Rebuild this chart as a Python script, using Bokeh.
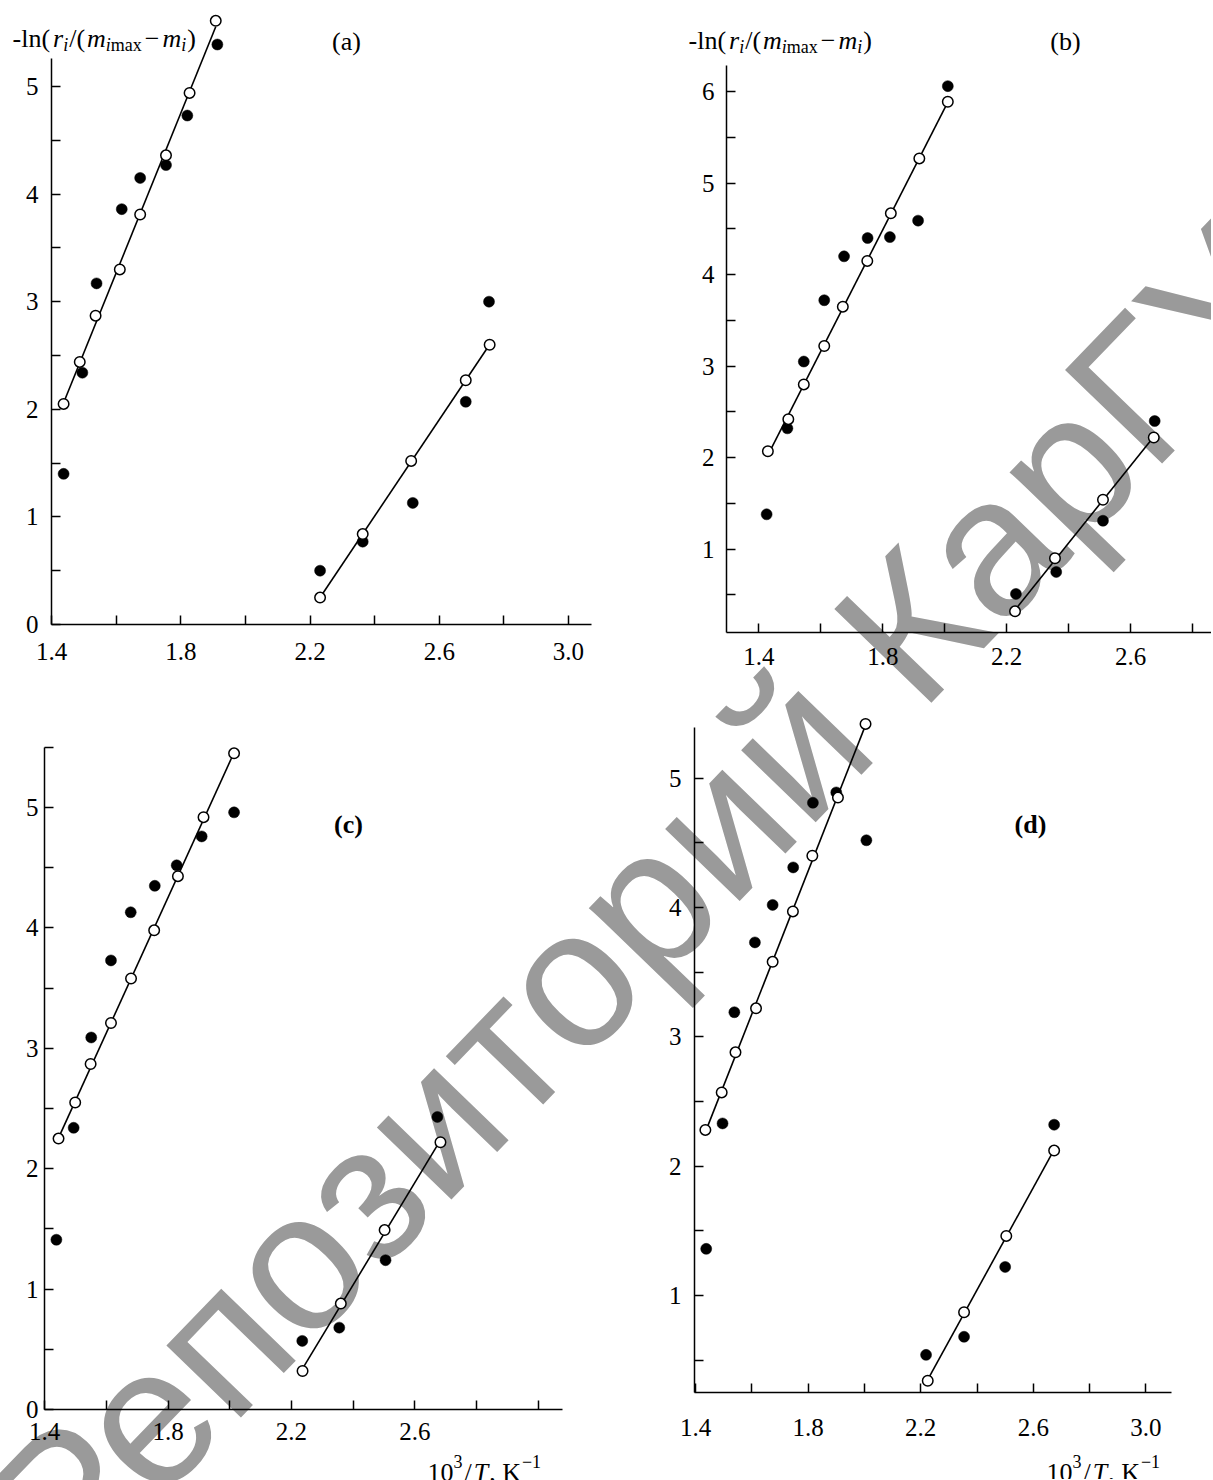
import numpy as np
from bokeh.plotting import figure
from bokeh.layouts import column, row
from bokeh.models import FixedTicker, PrintfTickFormatter
from bokeh.core.properties import value
from bokeh.embed import file_html
from bokeh.resources import INLINE

# ---------------- data: x = 10^3/T (K^-1), y = -ln(r_i/(m_imax - m_i)) ----------------
# panel (a)
a_hi_open_x = [1.437, 1.487, 1.536, 1.611, 1.674, 1.754, 1.827, 1.908]
a_hi_open_y = [2.05, 2.44, 2.87, 3.30, 3.81, 4.36, 4.94, 5.61]
a_hi_fill_x = [1.437, 1.495, 1.539, 1.617, 1.674, 1.754, 1.820, 1.913]
a_hi_fill_y = [1.40, 2.34, 3.17, 3.86, 4.15, 4.27, 4.73, 5.39]
a_lo_open_x = [2.231, 2.363, 2.513, 2.682, 2.756]
a_lo_open_y = [0.25, 0.84, 1.52, 2.27, 2.60]
a_lo_fill_x = [2.231, 2.363, 2.518, 2.682, 2.754]
a_lo_fill_y = [0.50, 0.77, 1.13, 2.07, 3.00]
# panel (b)
b_hi_open_x = [1.429, 1.495, 1.545, 1.611, 1.671, 1.750, 1.826, 1.918, 2.010]
b_hi_open_y = [2.07, 2.42, 2.80, 3.22, 3.65, 4.15, 4.67, 5.27, 5.89]
b_hi_fill_x = [1.425, 1.492, 1.545, 1.611, 1.675, 1.751, 1.823, 1.914, 2.010]
b_hi_fill_y = [1.38, 2.32, 3.05, 3.72, 4.20, 4.40, 4.41, 4.59, 6.06]
b_lo_open_x = [2.227, 2.356, 2.511, 2.675]
b_lo_open_y = [0.32, 0.90, 1.54, 2.22]
b_lo_fill_x = [2.230, 2.360, 2.511, 2.678]
b_lo_fill_y = [0.51, 0.75, 1.31, 2.40]
# panel (c)
c_hi_open_x = [1.445, 1.499, 1.549, 1.615, 1.680, 1.755, 1.832, 1.915, 2.014]
c_hi_open_y = [2.25, 2.55, 2.87, 3.21, 3.58, 3.98, 4.43, 4.92, 5.45]
c_hi_fill_x = [1.438, 1.494, 1.551, 1.615, 1.679, 1.757, 1.828, 1.909, 2.014]
c_hi_fill_y = [1.41, 2.34, 3.09, 3.73, 4.13, 4.35, 4.52, 4.76, 4.96]
c_lo_open_x = [2.236, 2.360, 2.502, 2.683]
c_lo_open_y = [0.32, 0.88, 1.49, 2.22]
c_lo_fill_x = [2.235, 2.355, 2.505, 2.673]
c_lo_fill_y = [0.57, 0.68, 1.24, 2.43]
# panel (d)
d_hi_open_x = [1.435, 1.493, 1.542, 1.615, 1.674, 1.746, 1.815, 1.906, 2.004]
d_hi_open_y = [2.28, 2.57, 2.88, 3.22, 3.58, 3.97, 4.40, 4.85, 5.42]
d_hi_fill_x = [1.438, 1.496, 1.538, 1.611, 1.674, 1.747, 1.817, 1.900, 2.007]
d_hi_fill_y = [1.36, 2.33, 3.19, 3.73, 4.02, 4.31, 4.81, 4.89, 4.52]
d_lo_open_x = [2.225, 2.354, 2.504, 2.674]
d_lo_open_y = [0.34, 0.87, 1.46, 2.12]
d_lo_fill_x = [2.219, 2.354, 2.500, 2.674]
d_lo_fill_y = [0.54, 0.68, 1.22, 2.32]

# tick values
a_xticks = [1.4, 1.8, 2.2, 2.6, 3.0]; a_xminor = [1.6, 2.0, 2.4, 2.8]
a_yticks = [0, 1, 2, 3, 4, 5];       a_yminor = [0.5, 1.5, 2.5, 3.5, 4.5]
b_xticks = [1.4, 1.8, 2.2, 2.6];      b_xminor = [1.6, 2.0, 2.4, 2.8]
b_yticks = [1, 2, 3, 4, 5, 6];       b_yminor = [0.5, 1.5, 2.5, 3.5, 4.5, 5.5]
c_xticks = [1.4, 1.8, 2.2, 2.6];      c_xminor = [1.6, 2.0, 2.4, 2.8, 3.0]
c_yticks = [0, 1, 2, 3, 4, 5];       c_yminor = [0.5, 1.5, 2.5, 3.5, 4.5, 5.5]
d_xticks = [1.4, 1.8, 2.2, 2.6, 3.0]; d_xminor = [1.6, 2.0, 2.4, 2.8]
d_yticks = [1, 2, 3, 4, 5];          d_yminor = [0.5, 1.5, 2.5, 3.5, 4.5]

panel_tags = ["(a)", "(b)", "(c)", "(d)"]
watermark_text = "Репозиторий КарГУ"

# ---------------- layout (page pixel geometry) ----------------
# plots in one row share their top/bottom border sizes, so frames are placed via figure heights
LAY = {
    "a": dict(fx=0, fy=0, w=600, h=692, fl=51, fr=591, ft=0, fb=624,
              x=(1.3995, 3.0713), y=(0.0, 5.799), yb=(0.0, 5.26), xs=18, ys=13),
    "b": dict(fx=600, fy=0, w=611, h=700, fl=726, fr=1211, ft=0, fb=632,
              x=(1.2954, 2.8614), y=(0.0885, 6.996), yb=(0.0885, 6.29), xs=15, ys=12),
    "c": dict(fx=0, fy=700, w=600, h=796, fl=44, fr=562, ft=700, fb=1409,
              x=(1.3995, 3.0786), y=(0.0, 5.889), yb=(0.0, 5.5), xs=13, ys=6),
    "d": dict(fx=600, fy=700, w=611, h=779, fl=694, fr=1171, ft=700, fb=1392,
              x=(1.3964, 3.0909), y=(0.249, 5.601), yb=(0.249, 5.39), xs=26, ys=13),
}

SERIF = "Liberation Serif"
W_ROMAN = {'-': .333, 'l': .278, 'n': .5, '(': .333, ')': .333, '/': .278, 'm': .778,
           'a': .444, 'x': .5, '−': .564, ' ': .25, '1': .5, '0': .5, '3': .5, ',': .25, 'K': .722}
W_ITAL = {'r': .389, 'i': .278, 'm': .722, 'T': .556}


def p2d(L, px, py):
    x0, x1 = L["x"]; y0, y1 = L["y"]
    x = x0 + (px - L["fl"]) / (L["fr"] - L["fl"]) * (x1 - x0)
    y = y0 + (L["fb"] - py) / (L["fb"] - L["ft"]) * (y1 - y0)
    return x, y


def put_text(p, L, txt, px, py, size, style="normal", align="left", baseline="alphabetic",
             font=SERIF, color="black", angle=0, level="overlay"):
    x, y = p2d(L, px, py)
    p.text(x=[x], y=[y], text=[txt], text_font=value(font), text_font_size=value(f"{size}px"),
           text_font_style=value(style), text_color=color, text_align=align,
           text_baseline=baseline, angle=angle, angle_units="deg", level=level)


def rich(p, L, pieces, px, py):
    cx = px
    for txt, size, style, dy, gap in pieces:
        tab = W_ITAL if "italic" in style else W_ROMAN
        put_text(p, L, txt, cx, py - dy, size, style)
        cx += sum(tab.get(ch, .5) for ch in txt) * size + gap


def make_panel(key, hox, hoy, hfx, hfy, lox, loy, lfx, lfy, xt, xm, yt, ym):
    L = LAY[key]
    p = figure(width=L["w"], height=L["h"], x_range=L["x"], y_range=L["y"],
               output_backend="svg", toolbar_location=None, title=None,
               min_border_left=L["fl"] - L["fx"], min_border_right=L["fx"] + L["w"] - L["fr"],
               min_border_top=L["ft"] - L["fy"], min_border_bottom=L["fy"] + L["h"] - L["fb"])
    p.outline_line_color = None
    p.xgrid.visible = False
    p.ygrid.visible = False
    p.background_fill_color = "white"
    p.border_fill_color = "white"

    # repository watermark, drawn beneath axes and marks
    put_text(p, L, watermark_text, 22, 1546, 196, font="Liberation Sans", color="#9a9a9a",
             angle=46, level="guide")

    for ox, oy, fx_, fy_ in ((hox, hoy, hfx, hfy), (lox, loy, lfx, lfy)):
        p.scatter(fx_, fy_, marker="circle", size=11, fill_color="black", line_color="black",
                  line_width=0.5, level="overlay")
        k, b = np.polyfit(ox, oy, 1)
        xs = [min(ox), max(ox)]
        p.line(xs, [k * v + b for v in xs], line_color="black", line_width=1.6, level="overlay")
        p.scatter(ox, oy, marker="circle", size=10.5, fill_color="white", line_color="black",
                  line_width=1.5, level="overlay")

    p.xaxis.ticker = FixedTicker(ticks=xt, minor_ticks=xm)
    p.yaxis.ticker = FixedTicker(ticks=yt, minor_ticks=ym)
    p.xaxis.formatter = PrintfTickFormatter(format="%.1f")
    p.yaxis.formatter = PrintfTickFormatter(format="%d")
    for ax in (p.xaxis[0], p.yaxis[0]):
        ax.axis_line_color = "black"
        ax.axis_line_width = 1.5
        ax.major_tick_in = 9
        ax.major_tick_out = 0
        ax.minor_tick_in = 9
        ax.minor_tick_out = 0
        ax.major_tick_line_color = "black"
        ax.minor_tick_line_color = "black"
        ax.major_tick_line_width = 1.5
        ax.minor_tick_line_width = 1.5
        ax.major_label_text_font = SERIF
        ax.major_label_text_font_size = "25px"
        ax.major_label_text_color = "black"
        ax.level = "overlay"
    p.xaxis.major_label_standoff = L["xs"]
    p.yaxis.major_label_standoff = L["ys"]
    p.yaxis.bounds = L["yb"]
    return p, L


pa, La = make_panel("a", a_hi_open_x, a_hi_open_y, a_hi_fill_x, a_hi_fill_y,
                    a_lo_open_x, a_lo_open_y, a_lo_fill_x, a_lo_fill_y,
                    a_xticks, a_xminor, a_yticks, a_yminor)
pb, Lb = make_panel("b", b_hi_open_x, b_hi_open_y, b_hi_fill_x, b_hi_fill_y,
                    b_lo_open_x, b_lo_open_y, b_lo_fill_x, b_lo_fill_y,
                    b_xticks, b_xminor, b_yticks, b_yminor)
pc, Lc = make_panel("c", c_hi_open_x, c_hi_open_y, c_hi_fill_x, c_hi_fill_y,
                    c_lo_open_x, c_lo_open_y, c_lo_fill_x, c_lo_fill_y,
                    c_xticks, c_xminor, c_yticks, c_yminor)
pd, Ld = make_panel("d", d_hi_open_x, d_hi_open_y, d_hi_fill_x, d_hi_fill_y,
                    d_lo_open_x, d_lo_open_y, d_lo_fill_x, d_lo_fill_y,
                    d_xticks, d_xminor, d_yticks, d_yminor)

# y-axis title: -ln(r_i/(m_imax - m_i)
ylab = [("-ln(", 26, "normal", 0, 3), ("r", 26, "italic", 0, 0), ("i", 18, "italic", -6, 1),
        ("/(", 26, "normal", 0, 2), ("m", 26, "italic", 0, 0), ("i", 18, "italic", -6, 0),
        ("max", 18, "normal", -6, 3), ("−", 26, "normal", 0, 3), ("m", 26, "italic", 0, 0),
        ("i", 18, "italic", -6, 1), (")", 26, "normal", 0, 0)]
rich(pa, La, ylab, 12, 38)
rich(pb, Lb, ylab, 688, 40)

# x-axis title: 10^3/T, K^-1
xlab = [("10", 26, "normal", 0, 0), ("3", 18, "normal", 11, 2), ("/", 26, "normal", 0, 2),
        ("T", 26, "italic", 0, 1), (", K", 26, "normal", 0, 1), ("−1", 18, "normal", 11, 0)]
rich(pc, Lc, xlab, 427, 1472)
rich(pd, Ld, xlab, 1046, 1472)

# panel tags
for p, L, tag, (px, py), style in ((pa, La, panel_tags[0], (346, 41), "normal"),
                                   (pb, Lb, panel_tags[1], (1065, 41), "normal"),
                                   (pc, Lc, panel_tags[2], (348, 824), "bold"),
                                   (pd, Ld, panel_tags[3], (1030, 824), "bold")):
    put_text(p, L, tag, px, py, 26, style, align="center", baseline="middle")

layout = column(row(pa, pb), row(pc, pd))
open("out.html", "w").write(file_html(layout, INLINE))
